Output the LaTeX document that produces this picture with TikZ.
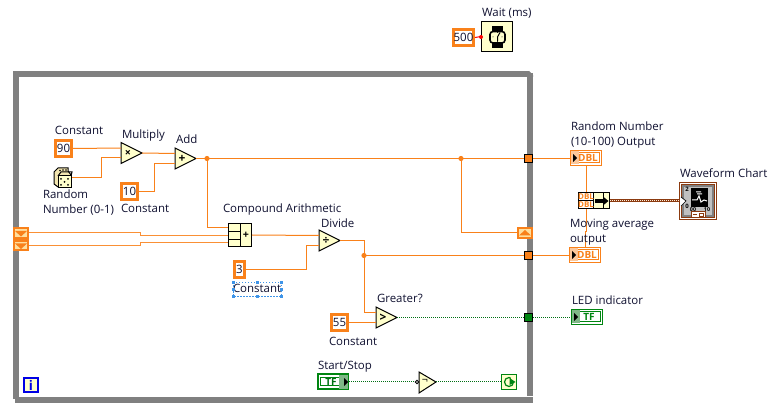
\documentclass[tikz,border=0pt]{standalone}
\usepackage{fontspec}
\setmainfont{Open Sans}
\usetikzlibrary{calc}
\definecolor{dblor}{HTML}{F9811A}
\definecolor{paleor}{HTML}{FBC79B}
\definecolor{regpale}{HTML}{FFDF9E}
\definecolor{pale}{HTML}{FFFFCC}
\definecolor{frameg}{HTML}{808080}
\definecolor{boolg}{HTML}{006F14}
\definecolor{paleg}{HTML}{7FB787}
\definecolor{wavebr}{HTML}{8B3A0F}
\definecolor{selblue}{HTML}{3E94E8}
\definecolor{inkc}{HTML}{0F1030}
\def\u{0.75pt}
\tikzset{
  lab/.style={anchor=base west,inner sep=0pt,outer sep=0pt,text=inkc,font=\fontsize{8.6}{10}\selectfont},
  wire/.style={draw=dblor,line width=1*\u},
  array/.style={draw=dblor!88!white,line width=1*\u},
  boolwire/.style={draw=boolg,line width=1*\u,dash pattern=on 1*\u off 1*\u},
  constbox/.style={draw=dblor,fill=white,line width=2.6*\u,inner sep=0pt,text=inkc,font=\fontsize{8.6}{10}\selectfont},
  gateface/.style={draw=black,fill=pale,line width=1*\u,line join=miter},
  tunnel/.style={draw=black,fill=#1,line width=1*\u,inner sep=0pt,minimum width=8.5*\u,minimum height=8.5*\u},
  shiftreg/.style={draw=dblor,fill=regpale,line width=2.4*\u,inner sep=0pt,minimum width=13.6*\u,minimum height=9.6*\u},
  ind/.style={draw=#1,fill=white,line width=1*\u,inner sep=0pt,minimum width=31*\u,minimum height=15*\u},
  cell/.style={draw=black,fill=pale,line width=1*\u,inner sep=0pt},
  handle/.style={fill=selblue,inner sep=0pt,minimum width=3*\u,minimum height=3*\u}
}
% arithmetic or comparison primitive: triangle with two inputs and one output
\newcommand{\gate}[4]{%
  \draw[gateface] (#2,#3-10.5) -- (#2+21,#3) -- (#2,#3+10.5) -- cycle;
  \node[inner sep=0pt,font=\bfseries\fontsize{9}{9}\selectfont] (#1) at (#2+7,#3) {#4};
  \coordinate (#1-a) at (#2,#3-5);
  \coordinate (#1-b) at (#2,#3+5);
  \coordinate (#1-o) at (#2+21,#3);
}
% shift-register terminal with a downward arrow
\newcommand{\regdown}[3]{%
  \node[shiftreg] (#1) at (#2,#3) {};
  \fill[dblor] (#2-6,#3-2) -- (#2+6,#3-2) -- (#2,#3+3.5) -- cycle;
}
% numeric or boolean terminal with a shaded connector pane
\newcommand{\terminal}[6]{%
  \node[ind=#4,line width=1*\u] (#1) at (#2,#3) {};
  \draw[draw=#4,line width=1*\u] (#2-13,#3-5) rectangle (#2+13,#3+5);
  \fill[#5] (#2-15,#3-6.5) rectangle (#2-7,#3+6.5);
  \fill[black] (#2-13,#3-4) -- (#2-9,#3) -- (#2-13,#3+4) -- cycle;
  \node[inner sep=0pt,text=#4,font=\bfseries\fontsize{7.5}{8}\selectfont] at (#2+2,#3) {#6};
}
\begin{document}
\begin{tikzpicture}[x=0.75pt,y=-0.75pt]
\useasboundingbox (0,0) rectangle (769,417);
\fill[white] (0,0) rectangle (769,417);

% while-loop frame
\fill[frameg] (13,71) rectangle (529,77);
\fill[frameg] (529,71) -- (533,75) -- (533,77) -- (529,77) -- cycle;
\fill[frameg] (13,71) rectangle (19,399);
\fill[frameg] (15,397) rectangle (533,403);
\fill[frameg] (527,73) rectangle (533,396);

% loop-wall terminals
\regdown{regA}{21}{233}
\regdown{regB}{21}{245.5}
\node[shiftreg] (regC) at (525,233) {};
\fill[dblor] (519,235.5) -- (531,235.5) -- (525,230) -- cycle;
\node[tunnel=dblor] (tunA) at (528.5,158.5) {};
\node[tunnel=dblor] (tunB) at (528.5,255.5) {};
\node[tunnel=boolg!85!green] (tunC) at (528.5,317.5) {};

% constants
\node[constbox,minimum width=16.4*\u,minimum height=16.4*\u] (c90) at (63.5,148.5) {90};
\node[constbox,minimum width=16.4*\u,minimum height=16.4*\u] (c10) at (129.5,191.5) {10};
\node[constbox,minimum width=10.4*\u,minimum height=16.4*\u] (c3) at (239.5,269.5) {3};
\node[constbox,minimum width=16.4*\u,minimum height=16.4*\u] (c55) at (339.5,322.5) {55};
\node[constbox,minimum width=20.4*\u,minimum height=16.4*\u] (c500) at (463.5,37.5) {500};

% primitives
\gate{mul}{121}{153}{\fontsize{8}{8}\selectfont×}
\gate{add}{175}{158.5}{+}
\gate{dvd}{319}{240.5}{÷}
\gate{gtr}{376}{317.5}{>}

% random-number dice
\coordinate (dice) at (72,178);
\draw[gateface,fill=pale!80!brown] (54,176) -- (54,184) -- (58,187) -- (71,187) -- (71,175) -- (68,171) -- (68,168) -- (58,168) -- (54,172) -- cycle;
\draw[gateface] (58,176) rectangle (71,188);
\draw[black,line width=1*\u] (58,176) -- (61,172) -- (72,172) -- (71,176);
\foreach \p/\q in {61/179,64.5/182,68/185,68/179,61/185} \fill[black] (\p,\q) circle (1);
\foreach \p/\q in {60/170.5,63/170,66/170} \fill[black] (\p,\q) circle (0.8);

% compound arithmetic
\node[cell,minimum width=23*\u,minimum height=23*\u] (comp) at (240,235) {};
\draw[black,line width=1*\u] (240.5,223.5) -- (240.5,246.5) (228.5,231.5) -- (240.5,231.5) (228.5,239.5) -- (240.5,239.5);
\node[inner sep=0pt,font=\bfseries\fontsize{8}{8}\selectfont] at (246,235.5) {+};
\coordinate (compA) at (228,227.5);
\coordinate (compB) at (228,236);
\coordinate (compC) at (228,243);

% not gate, loop condition, iteration terminal
\draw[gateface] (419,372) -- (436,382) -- (419,393) -- cycle;
\node[inner sep=0pt,font=\fontsize{8}{8}\selectfont] (notg) at (425,381) {¬};
\draw[black,fill=white,line width=0.8*\u] (417,382) circle (1.7);
\coordinate (notin) at (415,382);
\coordinate (noto) at (436,382);
\node[draw=boolg!85!green,fill=pale,line width=1.4*\u,inner sep=0pt,minimum width=15*\u,minimum height=15*\u] (stopc) at (509,382) {};
\draw[boolg!85!green,line width=1.2*\u] (509,382) circle (4.5);
\fill[pale] (511,375) rectangle (516,381);
\fill[boolg!85!green] (509.5,378) -- (515.5,382) -- (509.5,385) -- cycle;
\node[draw=blue!90!black,fill=pale,line width=2.4*\u,inner sep=0pt,minimum width=14*\u,minimum height=14*\u,text=blue!90!black,font=\bfseries\fontsize{10}{10}\selectfont] (iter) at (31,385) {i};

% wait function
\node[draw=black,fill=pale,line width=1*\u,minimum width=31*\u,minimum height=30*\u,inner sep=0pt] (wait) at (497,36.5) {};
\fill[black] (492,26) rectangle (503,48);
\draw[black,fill=pale,line width=1.6*\u,rounded corners=3*\u] (490,31.5) rectangle (505,43);
\draw[black,line width=1*\u] (497.5,37) -- (500,32.5) (497.5,37) -- (497.5,41);
\foreach \a in {0,90,180,270} \fill[black] ($(497.5,37)+(\a:4.5)$) circle (0.5);

% wires in the loop
\draw[wire] (c90.east) -- (mul-a);
\draw[wire] (dice) -| (101,158) -- (mul-b);
\draw[wire] (mul-o) -- (add-a);
\draw[wire] (c10.east) -| (154,163.5) -- (add-b);
\draw[wire] (add-o) -- (tunA.west);
\draw[wire] (207,158.5) |- (compA);
\draw[array] (regA.east) -- (140,233) -- (140,236) -- (compB);
\draw[array] (regB.east) -- (140,245.5) -- (140,243) -- (compC);
\draw[wire] (comp.east) -- (dvd-a);
\draw[wire] (c3.east) -| (306,245.5) -- (dvd-b);
\draw[wire] (dvd-o) -| (364,312.5) -- (gtr-a);
\draw[wire] (364,255.5) -- (tunB.west);
\draw[wire] (c55.east) -- (gtr-b);
\draw[wire] (461,158.5) |- (regC.west);
\fill[dblor] (207,158.5) circle (2.6);
\fill[dblor] (461,158.5) circle (2.6);
\fill[dblor] (364,255.5) circle (2.6);
\draw[boolwire] (gtr-o) -- (tunC.west);
\draw[red,line width=1*\u] (c500.east) -- (wait.west);
\fill[red] (481,37) circle (2);

% terminals outside and inside the loop
\draw[wire] (tunA.east) -- (570,158.5);
\draw[wire] (tunB.east) -- (570,255.5);
\draw[boolwire] (tunC.east) -- (571,317.5);
\draw[wire] (586,166) -- (586,232) -- (585,232) -- (585,247);
\terminal{rnd}{586}{158}{dblor}{paleor}{DBL}
\terminal{avg}{585}{255}{dblor}{paleor}{DBL}
\terminal{led}{587}{317}{boolg!85!green}{paleg}{TF}

% start/stop control
\node[draw=boolg!85!green,fill=white,line width=2*\u,inner sep=0pt,minimum width=30*\u,minimum height=15*\u] (stop) at (333,382) {};
\draw[boolg!85!green,line width=1*\u] (320,378) rectangle (345,386);
\fill[paleg] (339,375) rectangle (348,389);
\fill[black] (344,378) -- (348,382) -- (344,386) -- cycle;
\node[inner sep=0pt,text=boolg,font=\bfseries\fontsize{7.5}{8}\selectfont] at (331,382) {TF};
\draw[boolwire] (stop.east) -- (notin);
\draw[boolwire] (noto) -- (stopc.west);

% build array and waveform chart
\node[draw=black,fill=pale,line width=1*\u,inner sep=0pt,minimum width=31*\u,minimum height=16*\u] (bund) at (594,201) {};
\node[draw=black,fill=white,line width=1*\u,inner sep=0pt,minimum width=15*\u,minimum height=8*\u,text=dblor,font=\bfseries\fontsize{6}{6}\selectfont] (bu1) at (586,197) {DBL};
\node[draw=black,fill=white,line width=1*\u,inner sep=0pt,minimum width=15*\u,minimum height=8*\u,text=dblor,font=\bfseries\fontsize{6}{6}\selectfont] (bu2) at (586,205) {DBL};
\draw[black,line width=1*\u] (603.5,193) -- (603.5,209);
\fill[black] (595,199.5) rectangle (603,203);
\fill[black] (603,196.5) -- (608.5,201) -- (603,205.5) -- cycle;

\draw[wavebr,line width=3*\u] (bund.east) -- (680,201);
\draw[white!85!orange,line width=1*\u,dash pattern=on 1*\u off 1*\u] (bund.east) -- (680,201);

\node[draw=wavebr,fill=white,line width=1.4*\u,inner sep=0pt,minimum width=37*\u,minimum height=37*\u] (chart) at (698,201) {};
\fill[frameg!50!white] (682,185) rectangle (714,217);
\draw[wavebr,line width=1*\u] (681.5,184.5) rectangle (714.5,217.5);
\draw[frameg,line width=1.4*\u] (683,186) rectangle (713,216);
\fill[black] (691,188) rectangle (708,207);
\draw[white,line width=1*\u] (692,200) -- (697,200) -- (699,196) -- (701,202) -- (704,200) -- (707,201) (696,192) -- (701,192) (697,194) -- (702,194);
\fill[white] (681,197) -- (686,201) -- (681,206) -- cycle;
\draw[black,line width=0.7*\u] (681,197) -- (686,201) -- (681,206);
\node[inner sep=0pt,font=\bfseries\fontsize{4.5}{4.5}\selectfont] at (687,189) {2};
\node[inner sep=0pt,font=\bfseries\fontsize{4.5}{4.5}\selectfont] at (687,206) {0};
\node[inner sep=0pt,font=\bfseries\fontsize{4}{4}\selectfont] at (693,210) {00};
\node[inner sep=0pt,font=\bfseries\fontsize{4}{4}\selectfont] at (707,210) {10};
\draw[wavebr,fill=white,line width=1*\u] (691,212) rectangle (705,218);
\draw[wavebr,line width=0.8*\u] (693,214) -- (697,214) (699,213.5) rectangle (703,216.5);

% labels
\node[lab] (t1) at (55,135) {Constant};
\node[lab] (t2) at (122,139) {Multiply};
\node[lab] (t3) at (176,144) {Add};
\node[lab] (t4) at (43,199) {Random};
\node[lab] (t5) at (43,214) {Number (0-1)};
\node[lab] (t6) at (121,213) {Constant};
\node[lab] (t7) at (223,213) {Compound Arithmetic};
\node[lab] (t8) at (321,228) {Divide};
\node[lab] (t9) at (233,293) {Constant};
\node[lab] (t10) at (377,303) {Greater?};
\node[lab] (t11) at (329,346) {Constant};
\node[lab] (t12) at (318,370) {Start/Stop};
\node[lab] (t13) at (571,131) {Random Number};
\node[lab] (t14) at (571,146) {(10-100) Output};
\node[lab] (t15) at (680,178) {Waveform Chart};
\node[lab] (t16) at (570,228) {Moving average};
\node[lab] (t17) at (570,243) {output};
\node[lab] (t18) at (572,305) {LED indicator};
\node[lab] (t19) at (482,17) {Wait (ms)};

% selection marquee on one label
\draw[selblue,line width=0.8*\u,dash pattern=on 1.5*\u off 1.5*\u] (233,282.5) rectangle (281,296.5);
\foreach \p in {233,257,281} {
  \node[handle] at (\p,282.5) {};
  \node[handle] at (\p,296.5) {};
}
\node[handle] at (233,289.5) {};
\node[handle] at (281,289.5) {};
\end{tikzpicture}
\end{document}
